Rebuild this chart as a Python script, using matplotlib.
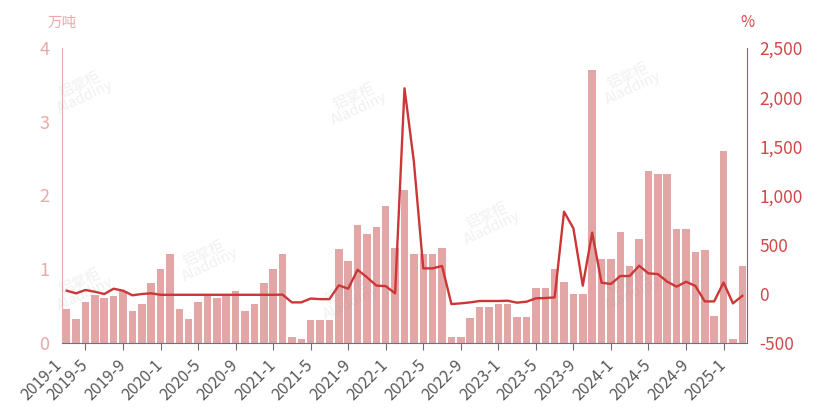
import matplotlib.pyplot as plt
import matplotlib.transforms as mtransforms

plt.rcParams['font.family'] = ['Noto Sans CJK SC', 'DejaVu Sans']

# monthly categories 2019-3 .. 2025-3
months = [f"{y}-{m}" for y in range(2019, 2026) for m in range(1, 13)]
months = months[2:75]

# bars, 万吨
volume = [0.46, 0.33, 0.55, 0.65, 0.61, 0.64, 0.70, 0.44, 0.53, 0.82,
          1.00, 1.20, 0.46, 0.33, 0.55, 0.65, 0.61, 0.64, 0.70, 0.44, 0.53, 0.82,
          1.00, 1.20, 0.08, 0.06, 0.31, 0.31, 0.31, 1.27, 1.11, 1.60, 1.48, 1.57,
          1.86, 1.29, 2.08, 1.21, 1.21, 1.21, 1.29, 0.08, 0.08, 0.34, 0.49, 0.49,
          0.53, 0.53, 0.35, 0.35, 0.74, 0.74, 1.00, 0.83, 0.67, 0.67, 3.70, 1.14,
          1.14, 1.51, 1.04, 1.41, 2.33, 2.29, 2.29, 1.55, 1.55, 1.23, 1.26, 0.36,
          2.60, 0.06, 1.05]

# line, % yoy
growth = [32, 5, 39, 21, -2, 52, 32, -15, -2, 5,
          -10, -10, -10, -10, -10, -10, -10, -10, -10, -10, -10, -10,
          -10, -8, -87, -87, -48, -54, -54, 86, 52, 245, 168, 84,
          78, 5, 2090, 1343, 259, 259, 283, -104, -97, -87, -73, -73,
          -73, -70, -90, -80, -46, -43, -36, 835, 666, 83, 622, 113,
          100, 181, 181, 286, 208, 201, 123, 73, 123, 80, -77, -77,
          115, -97, -21]

tick_labels = ["2019-1", "2019-5", "2019-9", "2020-1", "2020-5", "2020-9",
               "2021-1", "2021-5", "2021-9", "2022-1", "2022-5", "2022-9",
               "2023-1", "2023-5", "2023-9", "2024-1", "2024-5", "2024-9",
               "2025-1"]


def month_pos(s):
    y, m = s.split("-")
    return (int(y) - 2019) * 12 + int(m) - 1


x = [month_pos(s) for s in months]
ticks = [month_pos(s) for s in tick_labels]

bar_color = "#e3a6a6"
line_color = "#cc3636"
left_color = "#e9a9a9"
right_color = "#d24848"
axis_gray = "#6e7079"
label_gray = "#595959"

fig = plt.figure(figsize=(8.3, 4.12), dpi=100)

ax = fig.add_axes([0.0747, 0.1675, 0.8253, 0.716])
ax2 = ax.twinx()

ax.bar(x, volume, width=0.8, color=bar_color, zorder=2)
ax2.plot(x, growth, color=line_color, lw=1.7, zorder=3)

ax.set_xticks(ticks)
ax.set_xticklabels(tick_labels)
ax.set_xlim(1.5, 74.5)
ax.set_ylim(0, 4)
ax2.set_ylim(-500, 2500)
ax.set_yticks([0, 1, 2, 3, 4])
ax2.set_yticks(range(-500, 2501, 500))
ax2.set_yticklabels([f"{v:,}" for v in range(-500, 2501, 500)])

shift = mtransforms.ScaledTranslation(11 / 100, 0, fig.dpi_scale_trans)
for lab in ax.get_xticklabels():
    lab.set_rotation(45)
    lab.set_ha("right")
    lab.set_va("center")
    lab.set_rotation_mode("anchor")
    lab.set_transform(lab.get_transform() + shift)

# the first label sits left of the plot area, outside the view limits
ax.text(ticks[0], 0, tick_labels[0], rotation=45, ha="right", va="center",
        rotation_mode="anchor", color=label_gray, fontsize=11.5, clip_on=False,
        transform=ax.get_xaxis_transform()
        + mtransforms.ScaledTranslation(11 / 100, -14 / 72, fig.dpi_scale_trans))

ax.tick_params(axis="x", length=5, color=axis_gray, labelcolor=label_gray,
               labelsize=11.5, pad=9)
ax.tick_params(axis="y", length=0, pad=9, labelcolor=left_color, labelsize=13)
ax2.tick_params(axis="y", length=0, pad=9, labelcolor=right_color, labelsize=12.5)

for s in ["top", "right"]:
    ax.spines[s].set_visible(False)
ax.spines["left"].set_color(left_color)
ax.spines["bottom"].set_color(axis_gray)
for s in ["top", "left", "bottom"]:
    ax2.spines[s].set_visible(False)
ax2.spines["right"].set_color(right_color)

ax.text(0, 1.085, "万吨", transform=ax.transAxes, ha="center", va="center",
        color=left_color, fontsize=10.5)
ax2.text(1, 1.088, "%", transform=ax2.transAxes, ha="center", va="center",
         color=right_color, fontsize=11)

# faint watermarks on top
for wx, wy in [(0.10, 0.78), (0.43, 0.75), (0.76, 0.80), (0.59, 0.46),
               (0.25, 0.37), (0.10, 0.30), (0.42, 0.28), (0.76, 0.30)]:
    fig.text(wx, wy, "铝掌柜\nAladdiny", color="#8a8a8a", alpha=0.13,
             fontsize=10.5, rotation=25, ha="center", va="center",
             linespacing=0.9, zorder=10)

plt.savefig("out.png", dpi=100)
